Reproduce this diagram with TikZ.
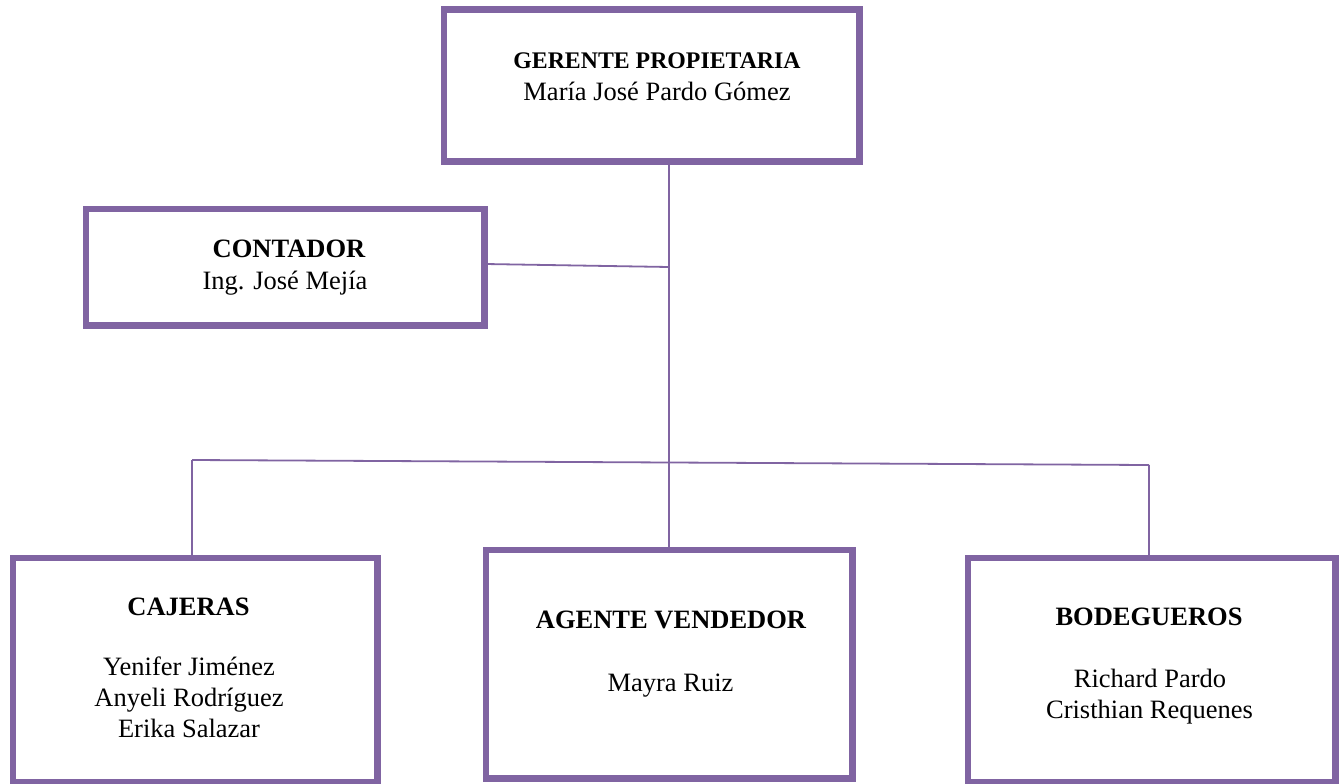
\documentclass[tikz,border=0pt]{standalone}
\usepackage{fontspec}
\setmainfont{Liberation Serif}
\definecolor{orgpurple}{HTML}{8064A2}
\begin{document}
\begin{tikzpicture}[x=1pt,y=-1pt,
  orgbox/.style={draw=orgpurple, line width=4.5pt, rectangle, inner sep=0pt, fill=white},
  conn/.style={draw=orgpurple, line width=1.8pt},
  ttl/.style={anchor=base, inner sep=0pt, font=\bfseries\fontsize{26.5}{30}\selectfont},
  smallttl/.style={anchor=base, inner sep=0pt, font=\bfseries\fontsize{23.8}{28}\selectfont},
  nm/.style={anchor=base, inner sep=0pt, font=\fontsize{26.5}{30}\selectfont}]
\useasboundingbox[fill=white] (0,0) rectangle (1341,784);
% boxes
\node[orgbox, minimum width=413pt, minimum height=149pt] (gerente) at (651.5,85.5) {};
\node[orgbox, minimum width=396pt, minimum height=114pt] (contador) at (285,267) {};
\node[orgbox, minimum width=362pt, minimum height=222pt] (cajeras) at (195,670) {};
\node[orgbox, minimum width=364pt, minimum height=226pt] (agente) at (669,664) {};
\node[orgbox, minimum width=365pt, minimum height=222pt] (bodegueros) at (1151.5,670) {};
% connectors
\coordinate (busL) at (192,460);
\coordinate (busR) at (1149,465);
\coordinate (jc) at (669,267);
\draw[conn] (gerente.south -| agente.north) -- (agente.north);
\draw[conn] ([yshift=3pt]contador.east) -- (jc);
\draw[conn] (busL) -- (busR);
\draw[conn] (busL) -- (busL |- cajeras.north);
\draw[conn] (busR) -- (busR |- bodegueros.north);
% box borders on top of connector ends
\foreach \b in {gerente,contador,cajeras,agente,bodegueros}
  \draw[orgpurple, line width=4.5pt] (\b.south west) rectangle (\b.north east);
% texts
\node[smallttl] (t1) at (657,68) {GERENTE PROPIETARIA};
\node[nm] (n1) at (657,100) {María José Pardo Gómez};
\node[ttl] (t2) at (289,257) {CONTADOR};
\node[nm] (n2) at (285,289) {Ing. José Mejía};
\node[ttl] (t3) at (188.5,615) {CAJERAS};
\node[nm] (n3a) at (189,675) {Yenifer Jiménez};
\node[nm] (n3b) at (189,706) {Anyeli Rodríguez};
\node[nm] (n3c) at (189,737) {Erika Salazar};
\node[ttl] (t4) at (671,628) {AGENTE VENDEDOR};
\node[nm] (n4) at (670.5,691) {Mayra Ruiz};
\node[ttl] (t5) at (1149,625) {BODEGUEROS};
\node[nm] (n5a) at (1150,687) {Richard Pardo};
\node[nm] (n5b) at (1149.5,718) {Cristhian Requenes};
\end{tikzpicture}
\end{document}
